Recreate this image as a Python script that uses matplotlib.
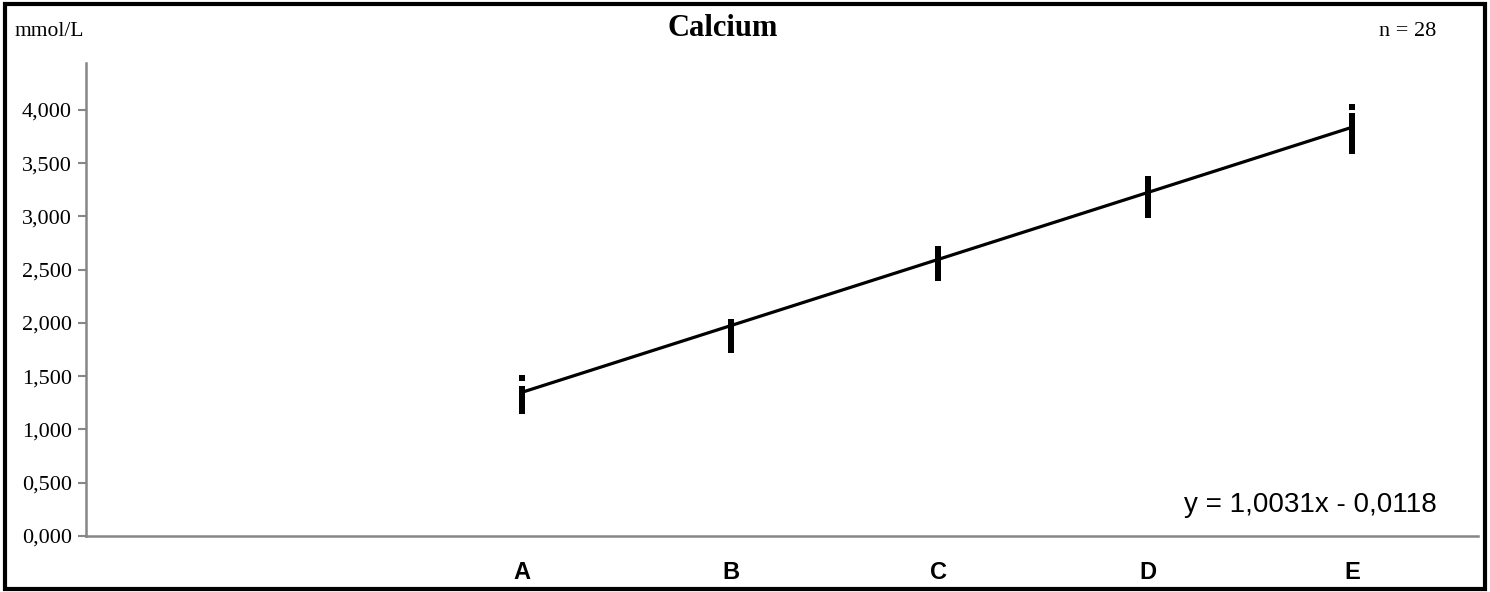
import numpy as np
import matplotlib.pyplot as plt
from matplotlib.patches import Rectangle

# levels and their target values (x axis)
levels = ["A", "B", "C", "D", "E"]
targets = [1.356, 1.981, 2.600, 3.227, 3.837]

# measured values, n = 28 per level
vals_A = [1.48, 1.38, 1.37, 1.36, 1.36, 1.35, 1.35, 1.34, 1.34, 1.34, 1.33, 1.33, 1.33, 1.32,
          1.32, 1.32, 1.31, 1.31, 1.31, 1.30, 1.30, 1.36, 1.35, 1.33, 1.25, 1.19, 1.17, 1.34]
vals_B = [2.01, 2.00, 1.99, 1.98, 1.97, 1.97, 1.96, 1.96, 1.95, 1.95, 1.94, 1.94, 1.94, 1.93,
          1.93, 1.93, 1.92, 1.92, 1.92, 1.91, 1.91, 1.95, 1.94, 1.87, 1.82, 1.78, 1.75, 1.96]
vals_C = [2.69, 2.68, 2.67, 2.66, 2.65, 2.64, 2.63, 2.62, 2.61, 2.60, 2.59, 2.58, 2.57, 2.57,
          2.56, 2.56, 2.55, 2.55, 2.54, 2.53, 2.52, 2.51, 2.50, 2.49, 2.48, 2.46, 2.44, 2.42]
vals_D = [3.35, 3.32, 3.30, 3.29, 3.28, 3.27, 3.26, 3.25, 3.24, 3.23, 3.22, 3.21, 3.20, 3.20,
          3.19, 3.18, 3.17, 3.16, 3.15, 3.14, 3.13, 3.12, 3.10, 3.09, 3.07, 3.05, 3.04, 3.01]
vals_E = [4.03, 3.94, 3.92, 3.90, 3.88, 3.86, 3.85, 3.84, 3.83, 3.82, 3.81, 3.80, 3.79, 3.78,
          3.77, 3.76, 3.75, 3.74, 3.73, 3.72, 3.71, 3.70, 3.68, 3.67, 3.65, 3.63, 3.62, 3.61]
all_vals = [vals_A, vals_B, vals_C, vals_D, vals_E]

slope = 1.0031
intercept = -0.0118
yticks = [0, 0.5, 1.0, 1.5, 2.0, 2.5, 3.0, 3.5, 4.0]

serif = ["Liberation Serif", "DejaVu Serif"]
sans = ["Liberation Sans", "DejaVu Sans"]
gray = "#868686"

fig = plt.figure(figsize=(14.9, 5.92), dpi=100)
ax = fig.add_axes([86/1490, 1-536/592, (1478-86)/1490, (536-63)/592])

for x, v in zip(targets, all_vals):
    ax.plot([x]*len(v), v, ls="none", marker="s", ms=3.9, color="black", mew=0)

xl = np.array([targets[0], targets[-1]])
ax.plot(xl, slope*xl + intercept, color="black", lw=2.3)

ax.set_xlim(0.054, 4.213)
ax.set_ylim(0, 4.44)
ax.set_yticks(yticks)
ax.set_yticklabels([f"{t:.3f}".replace(".", ",") for t in yticks], fontfamily=serif, fontsize=16)
ax.set_xticks(targets)
ax.set_xticklabels(levels, fontfamily=sans, fontsize=17, fontweight="bold")
ax.tick_params(axis="x", length=0, pad=18)
ax.tick_params(axis="y", length=6, width=1.5, color=gray, pad=4)
for s in ["top", "right"]:
    ax.spines[s].set_visible(False)
for s in ["left", "bottom"]:
    ax.spines[s].set_color(gray)
    ax.spines[s].set_linewidth(1.8)

ax.text(1437/1490, 1-505/592, "y = 1,0031x - 0,0118", transform=fig.transFigure,
        ha="right", va="center", fontfamily=sans, fontsize=20)

fig.text(723/1490, 1-28/592, "Calcium", ha="center", va="center", fontfamily=serif,
         fontsize=22, fontweight="bold")
fig.text(15/1490, 1-31/592, "mmol/L", ha="left", va="center", fontfamily=serif, fontsize=15.5)
fig.text(1436/1490, 1-31/592, "n = 28", ha="right", va="center", fontfamily=serif, fontsize=16)

fig.patches.append(Rectangle((5/1490, 3/592), 1480/1490, 585/592, transform=fig.transFigure,
                             fill=False, edgecolor="black", lw=3))

fig.savefig("out.png", dpi=100)
